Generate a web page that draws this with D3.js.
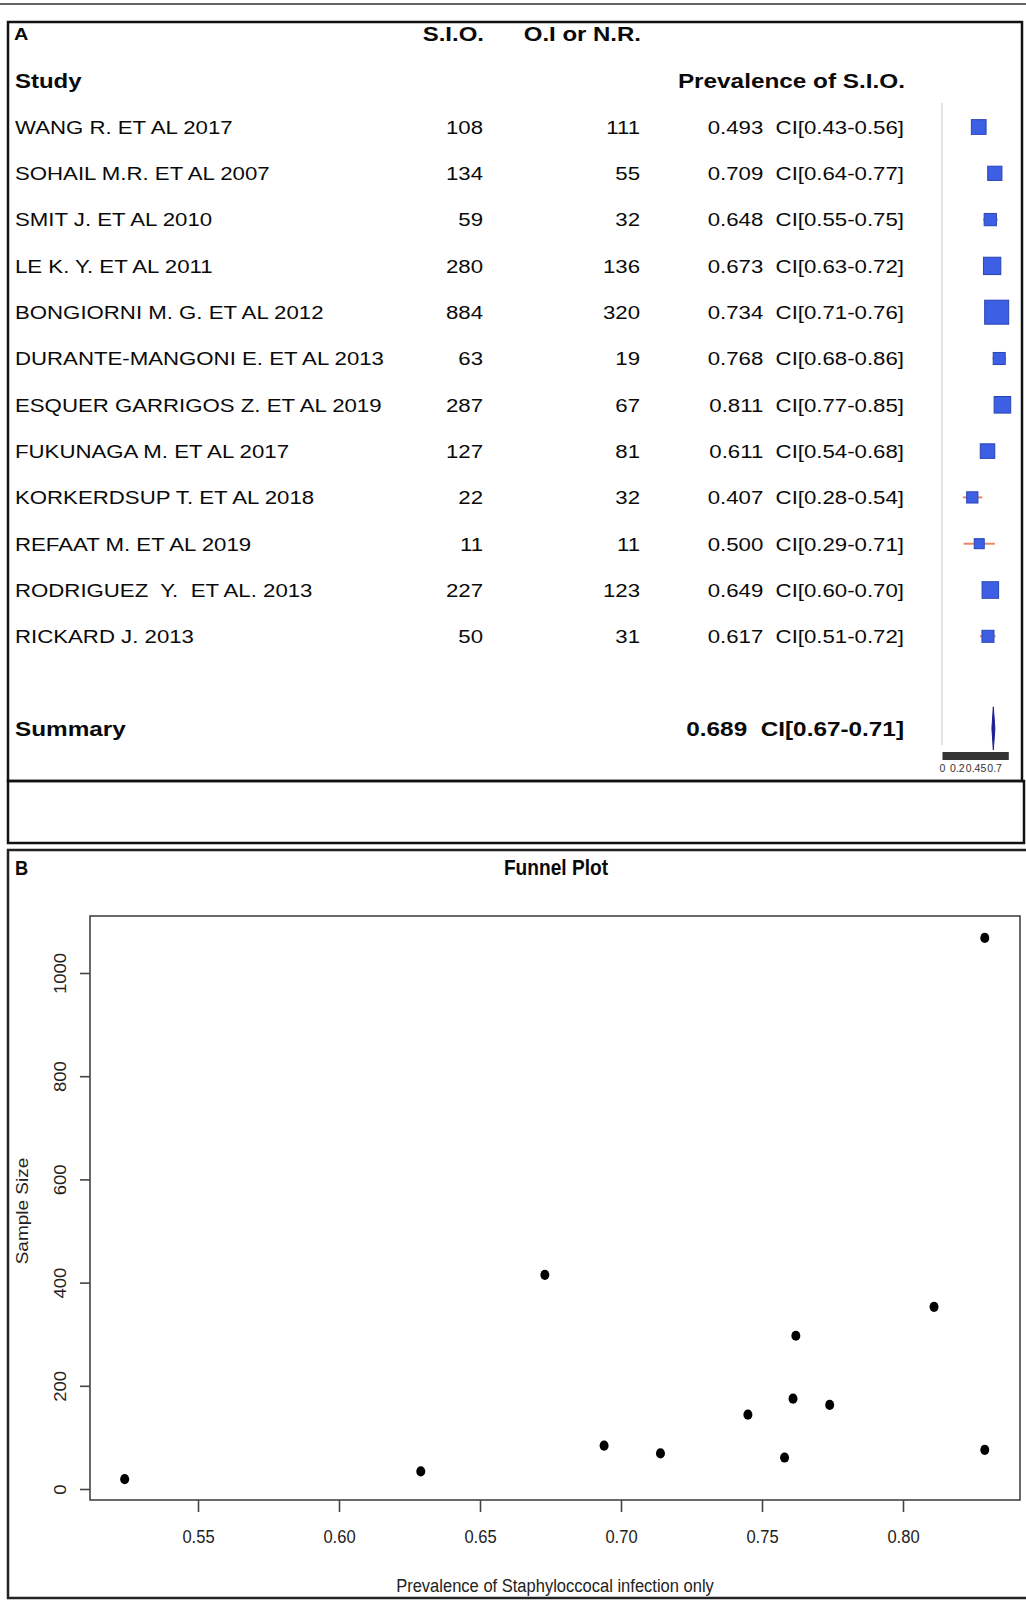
<!DOCTYPE html>
<html>
<head>
<meta charset="utf-8">
<script src="https://cdn.jsdelivr.net/npm/d3@7"></script>
<style>
  html, body { margin: 0; padding: 0; background: #fff; }
  svg { display: block; font-family: "Liberation Sans", Arial, Helvetica, sans-serif; }
</style>
</head>
<body>
<svg id="fig" width="1026" height="1606"></svg>
<script>
// ---- Panel A: forest plot of the prevalence of staphylococcal infection only (S.I.O.)
const studies = [
  "WANG R. ET AL 2017",
  "SOHAIL M.R. ET AL 2007",
  "SMIT J. ET AL 2010",
  "LE K. Y. ET AL 2011",
  "BONGIORNI M. G. ET AL 2012",
  "DURANTE-MANGONI E. ET AL 2013",
  "ESQUER GARRIGOS Z. ET AL 2019",
  "FUKUNAGA M. ET AL 2017",
  "KORKERDSUP T. ET AL 2018",
  "REFAAT M. ET AL 2019",
  "RODRIGUEZ  Y.  ET AL. 2013",
  "RICKARD J. 2013"
];
const sioCounts   = [108, 134, 59, 280, 884, 63, 287, 127, 22, 11, 227, 50];
const otherCounts = [111, 55, 32, 136, 320, 19, 67, 81, 32, 11, 123, 31];
const prevalence  = [0.493, 0.709, 0.648, 0.673, 0.734, 0.768, 0.811, 0.611, 0.407, 0.500, 0.649, 0.617];
const ciLow       = [0.43, 0.64, 0.55, 0.63, 0.71, 0.68, 0.77, 0.54, 0.28, 0.29, 0.60, 0.51];
const ciHigh      = [0.56, 0.77, 0.75, 0.72, 0.76, 0.86, 0.85, 0.68, 0.54, 0.71, 0.70, 0.72];
const summaryValues = [0.689, 0.67, 0.71];   // estimate, lower, upper
const forestTicks = [0, 0.2, 0.45, 0.7];

// ---- Panel B: funnel plot
const funnelPrevalence = [0.524, 0.629, 0.673, 0.694, 0.714, 0.745, 0.758, 0.761, 0.762, 0.774, 0.811, 0.829, 0.829];
const funnelSampleSize = [19, 34, 415, 84, 69, 144, 61, 175, 297, 163, 353, 1068, 76];
const funnelXTicks = [0.55, 0.60, 0.65, 0.70, 0.75, 0.80];
const funnelYTicks = [0, 200, 400, 600, 800, 1000];

const svg = d3.select("#fig");
const TABLE_STRETCH = 1.17;   // table text is set a little wide
const PLOT_SQUEEZE = 0.87;    // funnel plot text is set a little narrow

function label(g, x, y, s, o = {}) {
  return g.append("text")
    .attr("transform", `translate(${x},${y}) scale(${o.sx || 1},1)`)
    .attr("text-anchor", o.anchor || "start")
    .attr("dominant-baseline", "central")
    .attr("font-size", o.size || 19)
    .attr("font-weight", o.bold ? "bold" : "normal")
    .attr("fill", o.fill || "#0a0a0a")
    .style("white-space", "pre")
    .text(s);
}

// ---------- frames ----------
svg.append("line").attr("x1", 0).attr("x2", 1026).attr("y1", 4).attr("y2", 4)
  .attr("stroke", "#666").attr("stroke-width", 2);
svg.append("rect").attr("x", 8).attr("y", 22).attr("width", 1014).attr("height", 759)
  .attr("fill", "none").attr("stroke", "#111").attr("stroke-width", 2.5);
svg.append("rect").attr("x", 8).attr("y", 781).attr("width", 1016).attr("height", 62)
  .attr("fill", "none").attr("stroke", "#111").attr("stroke-width", 2.5);
svg.append("rect").attr("x", 8).attr("y", 850).attr("width", 1030).attr("height", 748)
  .attr("fill", "none").attr("stroke", "#222").attr("stroke-width", 2.5);

// ---------- panel A ----------
const A = svg.append("g");
const rowY = d3.scaleLinear().domain([0, 1]).range([127, 173.3]);
const T = { sx: TABLE_STRETCH };

label(A, 14, rowY(-2), "A", { ...T, bold: true, size: 17 });
label(A, 484, rowY(-2), "S.I.O.", { ...T, bold: true, size: 20.5, anchor: "end" });
label(A, 641, rowY(-2), "O.I or N.R.", { ...T, bold: true, size: 20.5, anchor: "end" });
label(A, 15, rowY(-1), "Study", { ...T, bold: true, size: 20.5 });
label(A, 905, rowY(-1), "Prevalence of S.I.O.", { ...T, bold: true, size: 20.8, anchor: "end" });

studies.forEach((name, i) => {
  const y = rowY(i);
  label(A, 15, y, name, T);
  label(A, 483, y, String(sioCounts[i]), { ...T, anchor: "end" });
  label(A, 640, y, String(otherCounts[i]), { ...T, anchor: "end" });
  label(A, 904, y,
    `${prevalence[i].toFixed(3)}  CI[${ciLow[i].toFixed(2)}-${ciHigh[i].toFixed(2)}]`,
    { ...T, anchor: "end" });
});

const sumRow = studies.length + 1;
label(A, 15, rowY(sumRow), "Summary", { ...T, bold: true, size: 20.8 });
label(A, 904, rowY(sumRow),
  `${summaryValues[0].toFixed(3)}  CI[${summaryValues[1].toFixed(2)}-${summaryValues[2].toFixed(2)}]`,
  { ...T, bold: true, size: 20.8, anchor: "end" });

// forest strip
const fx = d3.scaleLinear().domain([0, 0.89]).range([942, 1008.3]);
const totals = sioCounts.map((v, i) => v + otherCounts[i]);
const boxSize = d3.scaleLinear().domain(d3.extent(totals, n => Math.sqrt(n))).range([10, 24]);

A.append("line").attr("x1", fx(0)).attr("x2", fx(0)).attr("y1", 103).attr("y2", 745)
  .attr("stroke", "#cfcfcf").attr("stroke-width", 1.2);

const rows = A.append("g").selectAll("g").data(studies).join("g");
rows.append("line")
  .attr("x1", (d, i) => fx(ciLow[i])).attr("x2", (d, i) => fx(ciHigh[i]))
  .attr("y1", (d, i) => rowY(i)).attr("y2", (d, i) => rowY(i))
  .attr("stroke", "#e8896a").attr("stroke-width", 2);
rows.append("rect")
  .attr("x", (d, i) => fx(prevalence[i]) - boxSize(Math.sqrt(totals[i])) / 2)
  .attr("y", (d, i) => rowY(i) - boxSize(Math.sqrt(totals[i])) / 2)
  .attr("width", (d, i) => boxSize(Math.sqrt(totals[i])))
  .attr("height", (d, i) => boxSize(Math.sqrt(totals[i])))
  .attr("fill", "#3d5fe3").attr("stroke", "#2a44b5").attr("stroke-width", 1);

// summary diamond
const sy = rowY(sumRow) - 0.5;
A.append("path")
  .attr("d", `M${fx(summaryValues[1])},${sy} L${fx(summaryValues[0])},${sy - 21.5} L${fx(summaryValues[2])},${sy} L${fx(summaryValues[0])},${sy + 21.5} Z`)
  .attr("fill", "#1c1f94").attr("stroke", "#1c1f94").attr("stroke-width", 1);

// forest axis
const fAxis = A.append("g").attr("transform", "translate(0,755.5)")
  .call(d3.axisBottom(fx).tickValues(forestTicks).tickSize(0).tickSizeOuter(0)
    .tickFormat(d => String(d)));
fAxis.select(".domain").attr("stroke", "#333").attr("stroke-width", 8);
fAxis.selectAll("text").attr("y", 15).attr("dy", "0.1em")
  .attr("font-size", 10.5).attr("fill", "#333")
  .attr("font-family", "\"Liberation Sans\", Arial, sans-serif");

// ---------- panel B ----------
const B = svg.append("g");
const P = { sx: PLOT_SQUEEZE };
label(B, 15, 868, "B", { ...P, bold: true, size: 21 });
label(B, 556, 867, "Funnel Plot", { ...P, bold: true, size: 22, anchor: "middle" });

const px = d3.scaleLinear().domain([0.55, 0.80]).range([198, 903]);
const py = d3.scaleLinear().domain([0, 1000]).range([1489, 973]);

B.append("rect").attr("x", 90).attr("y", 916).attr("width", 930).attr("height", 584)
  .attr("fill", "none").attr("stroke", "#444").attr("stroke-width", 1.6);

const xAxis = B.append("g").attr("transform", "translate(0,1500)")
  .call(d3.axisBottom(px).tickValues(funnelXTicks).tickSize(12).tickFormat(d3.format(".2f")));
xAxis.select(".domain").remove();
xAxis.selectAll(".tick line").attr("stroke", "#444").attr("stroke-width", 1.6);
xAxis.selectAll("text")
  .attr("y", null).attr("dy", null)
  .attr("transform", `translate(0,37) scale(${PLOT_SQUEEZE},1)`)
  .attr("dominant-baseline", "central")
  .attr("font-size", 19).attr("fill", "#222")
  .attr("font-family", "\"Liberation Sans\", Arial, sans-serif");

const yAxis = B.append("g").attr("transform", "translate(90,0)")
  .call(d3.axisLeft(py).tickValues(funnelYTicks).tickSize(10).tickFormat(d3.format("d")));
yAxis.select(".domain").remove();
yAxis.selectAll(".tick line").attr("stroke", "#444").attr("stroke-width", 1.6);
yAxis.selectAll("text")
  .attr("x", null).attr("dy", null)
  .attr("transform", `translate(-30,0) scale(${PLOT_SQUEEZE},1) rotate(-90)`)
  .attr("text-anchor", "middle").attr("dominant-baseline", "central")
  .attr("font-size", 18.5).attr("fill", "#222")
  .attr("font-family", "\"Liberation Sans\", Arial, sans-serif");

B.append("text")
  .attr("transform", `translate(22,1211) scale(${PLOT_SQUEEZE},1) rotate(-90)`)
  .attr("text-anchor", "middle").attr("dominant-baseline", "central")
  .attr("font-size", 19).attr("fill", "#222")
  .text("Sample Size");
label(B, 555, 1586, "Prevalence of Staphyloccocal infection only",
  { ...P, size: 19, anchor: "middle", fill: "#222" });

B.append("g").selectAll("ellipse").data(funnelPrevalence).join("ellipse")
  .attr("cx", d => px(d))
  .attr("cy", (d, i) => py(funnelSampleSize[i]))
  .attr("rx", 4.5).attr("ry", 5.1)
  .attr("fill", "#000");
</script>
</body>
</html>
